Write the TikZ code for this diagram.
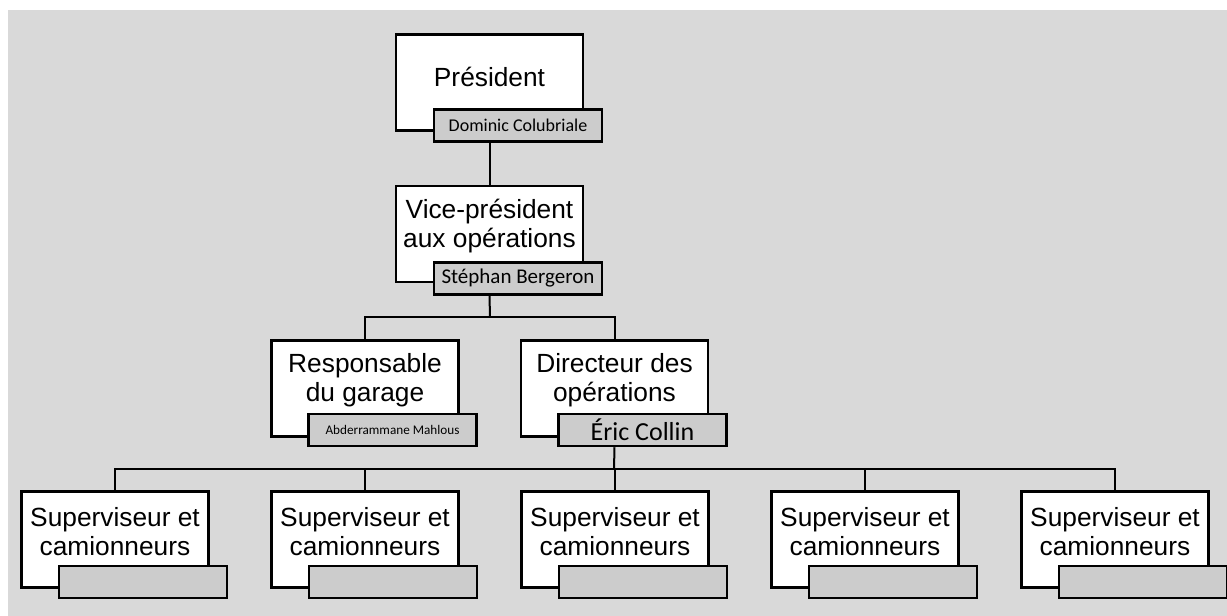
\documentclass[tikz,border=0pt]{standalone}
\usepackage{fontspec}
\setmainfont{Liberation Sans}
\newfontfamily\calibri{Carlito}
\definecolor{bggray}{HTML}{D9D9D9}
\definecolor{namegray}{HTML}{CCCCCC}
\begin{document}
\begin{tikzpicture}[x=1pt,y=-1pt,
  box/.style={draw=black,line width=2.5pt,fill=white,minimum width=187pt,minimum height=96pt,inner sep=0pt},
  namebox/.style={draw=black,line width=2.5pt,fill=namegray,minimum width=168pt,minimum height=32pt,inner sep=0pt,font=\calibri},
  lbl/.style={align=center,font=\fontsize{26.3}{29}\selectfont,inner sep=0pt},
  conn/.style={draw=black,line width=2pt}]
\useasboundingbox (0,0) rectangle (1227,616);
\fill[white] (0,0) rectangle (1227,616);
\fill[bggray] (8,10) rectangle (1227,616);
% junctions
\coordinate (j1) at (490,317);
\coordinate (j2) at (614,469);
% boxes
\node[box] (p) at (489.5,82.5) {};
\node[box] (v) at (489.5,234) {};
\node[box] (r) at (365,388.5) {};
\node[box] (d) at (614.5,388.5) {};
\node[box] (s1) at (115,539.5) {};
\node[box] (s2) at (365,539.5) {};
\node[box] (s3) at (615,539.5) {};
\node[box] (s4) at (865,539.5) {};
\node[box] (s5) at (1115,539.5) {};
% labels
\node[lbl] (pt) at ([yshift=6pt]p.center) {Président};
\node[lbl] (vt) at ([yshift=8pt]v.center) {Vice-président\\aux opérations};
\node[lbl] (rt) at ([yshift=8pt]r.center) {Responsable\\du garage};
\node[lbl] (dt) at ([yshift=8pt]d.center) {Directeur des\\opérations};
\foreach \i in {1,...,5}{
  \node[lbl] (s\i t) at ([yshift=8pt]s\i.center) {Superviseur et\\camionneurs};
}
% name boxes
\node[namebox] (pn) at (518,125.5) {\fontsize{18}{20}\selectfont Dominic Colubriale};
\node[namebox] (vn) at (518,278.5) {\fontsize{21}{23}\selectfont Stéphan Bergeron};
\node[namebox] (rn) at (392.5,430) {\fontsize{13.2}{15}\selectfont Abderrammane Mahlous};
\node[namebox] (dn) at (642.5,430) {\fontsize{26}{28}\selectfont Éric Collin};
\node[namebox] (s1n) at (143,582) {};
\node[namebox] (s2n) at (393,582) {};
\node[namebox] (s3n) at (643,582) {};
\node[namebox] (s4n) at (893,582) {};
\node[namebox] (s5n) at (1143,582) {};
% connectors
\draw[conn] (p |- pn.south) -- (v.north);
\draw[conn] (v |- vn.south) -- (j1);
\draw[conn] (r.north) |- (j1) -| (d.north);
\draw[conn] (d |- dn.south) -- (j2);
\draw[conn] (s1.north) |- (j2) -| (s5.north);
\draw[conn] (s2.north) -- (s2 |- j2);
\draw[conn] (s3.north) -- (s3 |- j2);
\draw[conn] (s4.north) -- (s4 |- j2);
\end{tikzpicture}
\end{document}
